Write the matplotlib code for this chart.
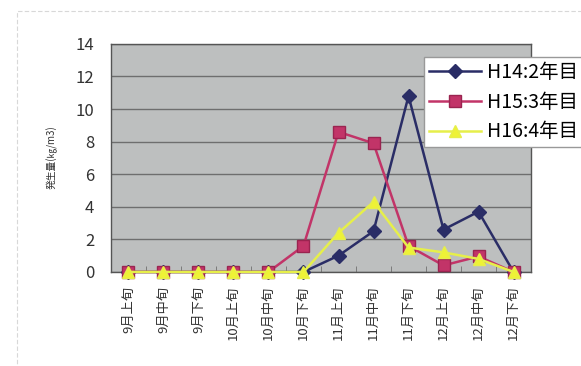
import matplotlib
matplotlib.use('Agg')
import matplotlib.pyplot as plt
from matplotlib.patches import Rectangle

plt.rcParams['font.family'] = ['Noto Sans CJK JP', 'DejaVu Sans']

# data
categories = ['9月上旬', '9月中旬', '9月下旬', '10月上旬', '10月中旬', '10月下旬',
              '11月上旬', '11月中旬', '11月下旬', '12月上旬', '12月中旬', '12月下旬']
h14 = [0, 0, 0, 0, 0, 0, 1.0, 2.5, 10.8, 2.6, 3.7, 0]
h15 = [0, 0, 0, 0, 0, 1.6, 8.6, 7.9, 1.6, 0.4, 0.95, 0]
h16 = [0, 0, 0, 0, 0, 0, 2.4, 4.3, 1.5, 1.2, 0.8, 0]
yticks = [0, 2, 4, 6, 8, 10, 12, 14]

fig = plt.figure(figsize=(5.81, 3.66), dpi=100)
ax = fig.add_axes([0.191, 0.257, 0.723, 0.623])

# faint outer frame of the scanned chart
fig.patches.append(Rectangle((0.03, -0.1), 1.2, 1.07, transform=fig.transFigure,
                             fill=False, edgecolor='#d8d8d8', linewidth=0.8,
                             linestyle=(0, (4, 2))))

ax.set_facecolor('#bdbfbf')
x = list(range(len(categories)))

ax.plot(x, h14, color='#2a2d66', linewidth=1.8, marker='D', markersize=7,
        markerfacecolor='#2a2d66', markeredgecolor='#2a2d66', label='H14:2年目',
        clip_on=False, zorder=3)
ax.plot(x, h15, color='#c23468', linewidth=1.8, marker='s', markersize=9,
        markerfacecolor='#c23468', markeredgecolor='#9a2450', label='H15:3年目',
        clip_on=False, zorder=4)
ax.plot(x, h16, color='#e6ef4a', linewidth=1.8, marker='^', markersize=9,
        markerfacecolor='#eef236', markeredgecolor='#e6ef4a', label='H16:4年目',
        clip_on=False, zorder=5)

ax.set_xlim(-0.5, len(categories) - 0.5)
ax.set_ylim(0, 14)
ax.set_yticks(yticks)
ax.set_yticklabels([str(v) for v in yticks], fontsize=12, color='#333333')
ax.tick_params(axis='y', length=0, pad=12)
ax.set_xticks(x)
ax.set_xticklabels(categories, rotation=90, fontsize=9.5, color='#333333')
ax.tick_params(axis='x', length=0, pad=10)
ax.set_xticks([i + 0.5 for i in x[:-1]], minor=True)
ax.tick_params(axis='x', which='minor', direction='in', length=4, color='#707070')

ax.grid(axis='y', color='#6e6e6e', linewidth=1.0)
ax.set_axisbelow(True)
for s in ax.spines.values():
    s.set_color('#555555')
    s.set_linewidth(1.0)

fig.text(0.09, 0.57, '発生量(㎏/m3)', rotation=90, fontsize=7, color='#333333',
         ha='center', va='center')

fig.legend(loc='upper left', bbox_to_anchor=(424 / 581, 1 - 57 / 366),
           fontsize=14, frameon=True, fancybox=False, edgecolor='#999999',
           framealpha=1, borderpad=0.25, labelspacing=0.45, handlelength=2.7,
           handletextpad=0.3, borderaxespad=0)

fig.savefig('out.png', dpi=100)
